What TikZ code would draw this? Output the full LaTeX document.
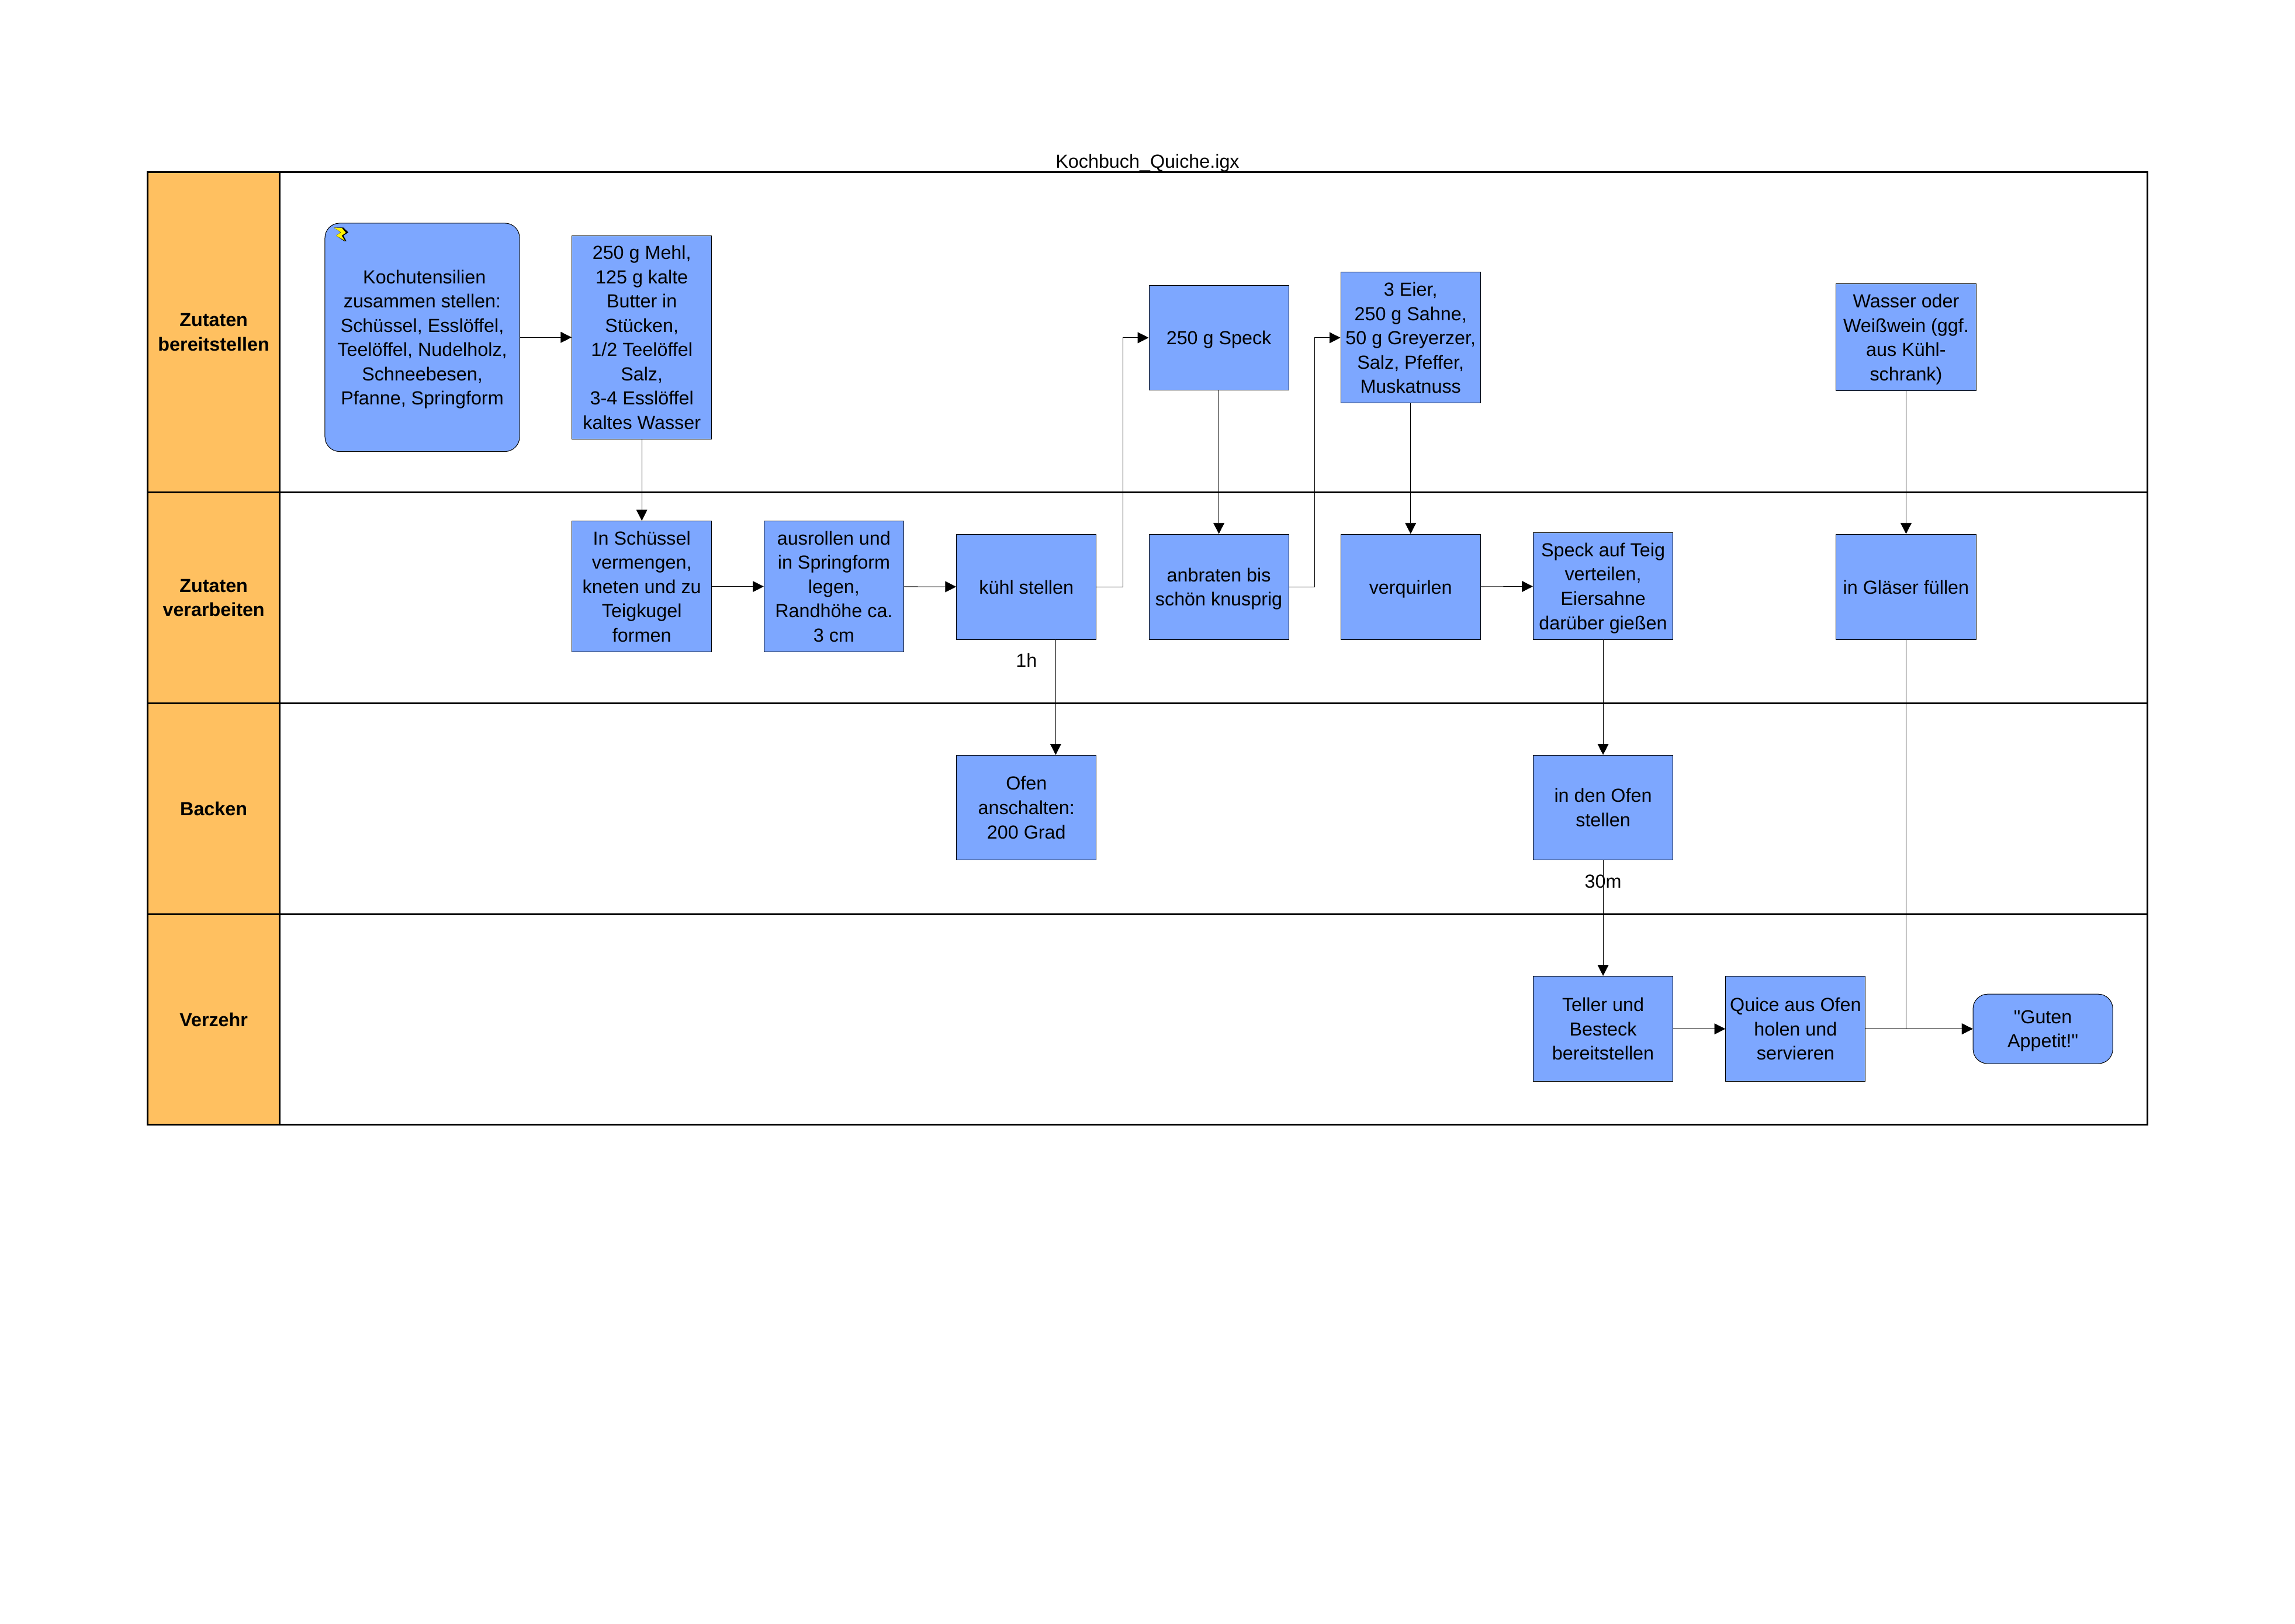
\documentclass[tikz,border=0pt]{standalone}
\usepackage{fontspec}
\setmainfont{Liberation Sans}
\newfontfamily\plainquote{Liberation Sans}
\usetikzlibrary{arrows.meta}

\definecolor{laneorange}{RGB}{255,192,96}
\definecolor{taskblue}{RGB}{125,167,255}

\newcommand{\topstrut}{\rule{0pt}{9.6pt}}

\tikzset{
  strutted/.style={execute at begin node=\topstrut, text depth=0pt},
  textfont/.style={font=\fontsize{12.9}{16.6}\selectfont, align=center, strutted},
  lanehead/.style={rectangle, draw=black, line width=1.2pt, fill=laneorange, minimum width=90pt,
    inner sep=0pt, align=center, strutted, font=\fontsize{12.9}{16.6}\selectfont\bfseries},
  lanebody/.style={rectangle, draw=black, line width=1.2pt, minimum width=1276pt, inner sep=0pt},
  task/.style={rectangle, draw=black, line width=0.4pt, fill=taskblue, minimum width=95.5pt,
    inner sep=0pt, textfont},
  event/.style={task, rounded corners=10pt},
  flow/.style={draw=black, line width=0.35pt, -{Triangle[length=7.5pt,width=7.5pt,black]}}
}

\begin{document}
\begin{tikzpicture}[x=1pt,y=-1pt]

    \useasboundingbox (0,0) rectangle (1568,1109.6);

    % Title
    \node[textfont, inner sep=0pt] (title) at (784,110) {Kochbuch\_Quiche.igx};

    % Lanes
    \node[lanebody, minimum height=219pt] (bodyA) at (829,227) {};
    \node[lanebody, minimum height=144pt] (bodyB) at (829,408.5) {};
    \node[lanebody, minimum height=144pt] (bodyC) at (829,552.5) {};
    \node[lanebody, minimum height=144pt] (bodyD) at (829,696.5) {};
    \node[lanehead, minimum height=219pt] (headA) at (146,227) {Zutaten\\bereitstellen};
    \node[lanehead, minimum height=144pt] (headB) at (146,408.5) {Zutaten\\verarbeiten};
    \node[lanehead, minimum height=144pt] (headC) at (146,552.5) {Backen};
    \node[lanehead, minimum height=144pt] (headD) at (146,696.5) {Verzehr};

    % Zutaten bereitstellen
    \node[event, minimum width=133pt, minimum height=156pt] (utensilien) at (288.5,230.5)
      {\hspace{3pt}Kochutensilien\\zusammen stellen:\\Schüssel, Esslöffel,\\Teelöffel, Nudelholz,\\Schneebesen,\\Pfanne, Springform};
    \node[task, minimum height=139pt] (teig) at (438.5,230.5)
      {250 g Mehl,\\125 g kalte\\Butter in\\Stücken,\\1/2 Teelöffel\\Salz,\\3-4 Esslöffel\\kaltes Wasser};
    \node[task, minimum height=71.5pt] (speck) at (832.75,230.75) {250 g Speck};
    \node[task, minimum height=89.5pt] (eier) at (963.75,230.75)
      {3 Eier,\\250 g Sahne,\\50 g Greyerzer,\\Salz, Pfeffer,\\Muskatnuss};
    \node[task, minimum height=73pt] (wasser) at (1302.25,230.5)
      {Wasser oder\\Weißwein (ggf.\\aus Kühl-\\schrank)};

    % Zutaten verarbeiten
    \node[task, minimum height=89.5pt] (vermengen) at (438.5,400.75)
      {In Schüssel\\vermengen,\\kneten und zu\\Teigkugel\\formen};
    \node[task, minimum height=89.5pt] (ausrollen) at (569.75,400.75)
      {ausrollen und\\in Springform\\legen,\\Randhöhe ca.\\3 cm};
    \node[task, minimum height=72pt] (kuehl) at (701.25,401) {kühl stellen};
    \node[task, minimum height=72pt] (anbraten) at (832.75,401) {anbraten bis\\schön knusprig};
    \node[task, minimum height=72pt] (verquirlen) at (963.75,401) {verquirlen};
    \node[task, minimum height=73pt] (verteilen) at (1095.25,400.5)
      {Speck auf Teig\\verteilen,\\Eiersahne\\darüber gießen};
    \node[task, minimum height=72pt] (glaeser) at (1302.25,401) {in Gläser füllen};

    % Backen
    \node[task, minimum height=71.5pt] (ofenan) at (701.25,551.75) {Ofen\\anschalten:\\200 Grad};
    \node[task, minimum height=71.5pt] (ofenrein) at (1095.25,551.75) {in den Ofen\\stellen};

    % Verzehr
    \node[task, minimum height=72pt] (teller) at (1095.25,703) {Teller und\\Besteck\\bereitstellen};
    \node[task, minimum height=72pt] (servieren) at (1226.75,703) {Quice aus Ofen\\holen und\\servieren};
    \node[event, minimum height=47.5pt] (appetit) at (1395.75,703) {{\plainquote"}Guten\\Appetit!{\plainquote"}};

    % Lightning symbol
    \fill[black] (228,155.5) -- (234.6,155.5) -- (238,158.8) -- (234.6,161) -- (236.7,164.8)
      -- (235.1,164.7) -- (229.6,161) -- (232.7,158.7) -- cycle;
    \fill[yellow] (228,155.5) -- (233.6,155.8) -- (236.3,159) -- (233.4,161) -- (235.6,164.4)
      -- (229.6,161) -- (233,158.7) -- cycle;

    % Connectors
    \draw[flow] (utensilien) -- (teig);
    \draw[flow] (teig) -- (vermengen);
    \draw[flow] (vermengen) -- (ausrollen);
    \draw[flow] (ausrollen) -- (kuehl);
    \draw[flow] (kuehl.east) -- ++(18,0) |- (speck.west);
    \draw[flow] (speck) -- (anbraten);
    \draw[flow] (anbraten.east) -- ++(17.5,0) |- (eier.west);
    \draw[flow] (eier) -- (verquirlen);
    \draw[flow] (verquirlen) -- (verteilen);
    \draw[flow] (verteilen) -- (ofenrein);
    \draw[flow] ([xshift=20pt]kuehl.south) -- ([xshift=20pt]ofenan.north);
    \draw[flow] (ofenrein) -- (teller);
    \draw[flow] (teller) -- (servieren);
    \draw[flow] (servieren) -- (appetit);
    \draw[flow] (wasser) -- (glaeser);
    \draw[flow] (glaeser) |- (appetit);

    % Waiting times
    \node[textfont, inner sep=0pt] (einsh) at (701.25,451) {1h};
    \node[textfont, inner sep=0pt] (dreissigm) at (1095.25,602) {30m};

\end{tikzpicture}
\end{document}
